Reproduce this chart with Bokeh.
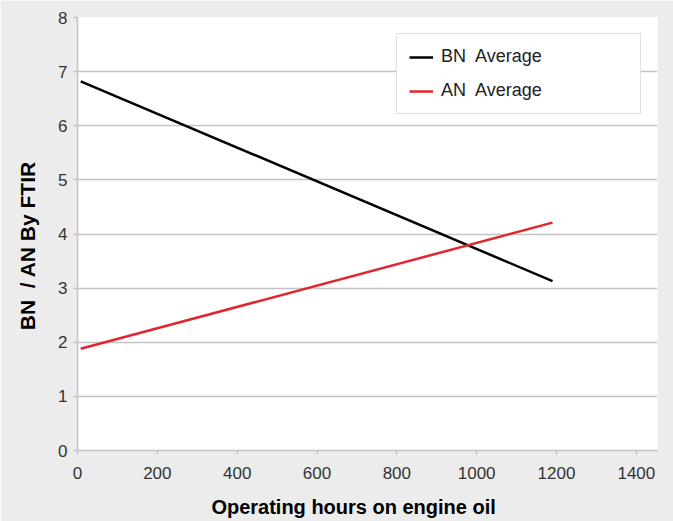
from bokeh.plotting import figure
from bokeh.models import Range1d, Legend, LegendItem, FixedTicker
from bokeh.embed import file_html
from bokeh.resources import INLINE

hours = [8, 1190]
bn_average = [6.82, 3.13]
an_average = [1.88, 4.21]
x_ticks = [0, 200, 400, 600, 800, 1000, 1200, 1400]
y_ticks = [0, 1, 2, 3, 4, 5, 6, 7, 8]

BG = "#ececec"
GRID = "#c4c4c4"
NB = "\u00a0"

p = figure(width=673, height=521, output_backend="svg", toolbar_location=None,
           x_range=Range1d(0, 1453), y_range=Range1d(0, 8),
           min_border_left=77, min_border_right=16, min_border_top=17, min_border_bottom=71)
p.border_fill_color = BG
p.background_fill_color = "white"
p.outline_line_color = None

bn = p.line(hours, bn_average, line_color="black", line_width=2.5)
an = p.line(hours, an_average, line_color="#e2262e", line_width=2.5)

p.xgrid.grid_line_color = None
p.ygrid.grid_line_color = GRID
p.ygrid.grid_line_width = 1.5
p.ygrid.ticker = FixedTicker(ticks=y_ticks)

for ax in (p.xaxis[0], p.yaxis[0]):
    ax.axis_line_color = GRID
    ax.axis_line_width = 1.5
    ax.major_tick_line_color = GRID
    ax.major_tick_line_width = 1.5
    ax.major_tick_in = 0
    ax.major_tick_out = 4
    ax.minor_tick_line_color = None
    ax.major_label_text_font = "Liberation Sans"
    ax.major_label_text_font_size = "17px"
    ax.major_label_text_color = "#333333"
    ax.axis_label_text_font = "Liberation Sans"
    ax.axis_label_text_font_style = "bold"
    ax.axis_label_text_color = "black"

p.xaxis.ticker = FixedTicker(ticks=x_ticks)
p.yaxis.ticker = FixedTicker(ticks=y_ticks)
p.xaxis.major_label_standoff = 12
p.xaxis.axis_label_standoff = 14
p.yaxis.major_label_standoff = 6
p.yaxis.axis_label_standoff = 16
p.xaxis.axis_label_text_font_size = "20px"
p.yaxis.axis_label_text_font_size = "21px"
p.xaxis.axis_label = "Operating hours on engine oil" + NB * 5
p.yaxis.axis_label = "BN" + NB + " / AN By FTIR" + NB * 4

legend = Legend(items=[LegendItem(label="BN" + NB + " Average", renderers=[bn]),
                       LegendItem(label="AN" + NB + " Average", renderers=[an])],
                location="top_right", margin=16, padding=12, spacing=13,
                glyph_width=24, glyph_height=20, label_height=20, label_width=187,
                label_standoff=8,
                label_text_font="Liberation Sans", label_text_font_size="18px",
                label_text_color="#222222",
                border_line_color="#c4c4c4", border_line_width=1.5,
                background_fill_color="white", background_fill_alpha=1.0)
p.add_layout(legend)

open("out.html", "w").write(file_html(p, INLINE))
